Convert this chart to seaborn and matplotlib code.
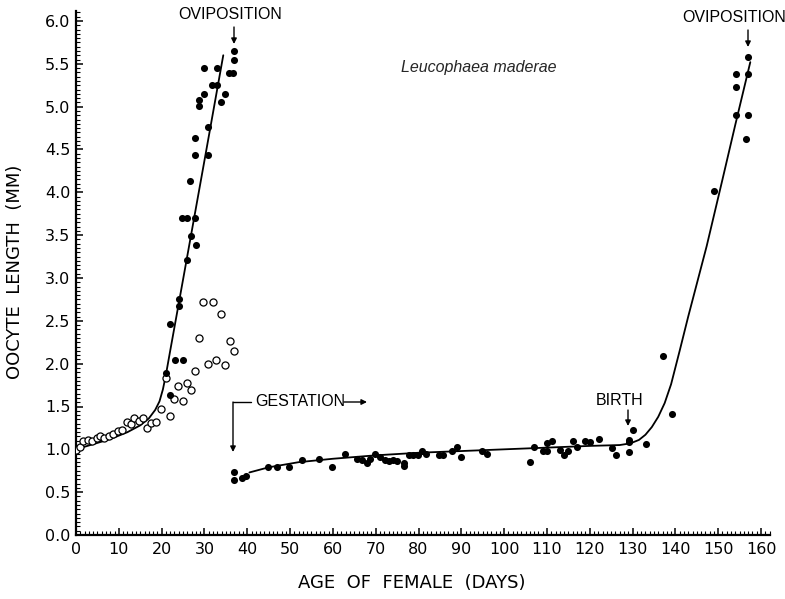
import numpy as np
import pandas as pd
import matplotlib
matplotlib.use("Agg")
import matplotlib.pyplot as plt
from matplotlib.ticker import MultipleLocator, FormatStrFormatter
import seaborn as sns

# --- first reproductive cycle: open circles (previtellogenic oocytes) ---
open_days = [0, 0.9, 1.7, 2.9, 3.8, 4.8, 5.6, 6.5, 7.6, 8.7, 9.7, 10.7, 11.8, 12.8,
             13.6, 14.7, 15.7, 16.6, 17.5, 18.6, 19.9, 21.0, 21.9, 23.0, 23.9, 24.9,
             25.9, 26.9, 27.9, 28.8, 29.7, 30.8, 31.9, 32.8, 33.9, 34.8, 36.0, 36.8]
open_len = [0.99, 1.03, 1.10, 1.11, 1.10, 1.13, 1.16, 1.13, 1.15, 1.18, 1.21, 1.23, 1.32, 1.30,
            1.37, 1.33, 1.36, 1.25, 1.31, 1.32, 1.47, 1.83, 1.39, 1.59, 1.74, 1.56,
            1.77, 1.69, 1.92, 2.30, 2.72, 2.00, 2.72, 2.04, 2.58, 1.98, 2.26, 2.15]

# --- first cycle: filled circles (growing basal oocytes) ---
c1_days = [21.0, 22.0, 21.9, 23.1, 25.0, 24.0, 24.0, 25.9, 24.8, 25.9, 27.9, 26.9, 28.0,
           26.7, 27.9, 30.9, 27.8, 30.8, 28.8, 28.8, 33.9, 29.8, 34.9, 31.8, 33.0,
           35.8, 36.6, 29.8, 32.9, 36.9, 36.9]
c1_len = [1.89, 1.64, 2.46, 2.04, 2.04, 2.75, 2.67, 3.21, 3.70, 3.70, 3.70, 3.49, 3.38,
          4.13, 4.43, 4.43, 4.64, 4.76, 5.08, 5.01, 5.06, 5.15, 5.15, 5.25, 5.25,
          5.39, 5.39, 5.45, 5.45, 5.54, 5.65]

# --- gestation and second cycle: filled circles ---
c2_days = [36.8, 36.9, 38.8, 39.7, 44.9, 46.9, 49.8, 52.8, 56.8, 59.8, 62.9, 65.7, 66.8,
           67.9, 68.7, 69.9, 71.0, 72.1, 73.1, 74.0, 74.9, 76.5, 76.6, 77.7, 78.8, 79.9,
           80.8, 81.8, 84.7, 85.8, 87.9, 89.0, 90.0, 94.9, 96.1, 106.1, 107.0, 109.0,
           110.1, 110.0, 111.1, 113.1, 114.1, 115.0, 116.2, 117.0, 119.0, 120.1, 122.2,
           125.1, 126.2, 129.2, 129.2, 129.2, 130.0, 133.1, 139.3, 137.0, 149.1, 154.2,
           154.2, 154.2, 156.9, 156.9, 156.9, 156.4]
c2_len = [0.74, 0.64, 0.66, 0.69, 0.79, 0.79, 0.79, 0.88, 0.89, 0.79, 0.95, 0.89, 0.87,
          0.84, 0.89, 0.94, 0.91, 0.88, 0.86, 0.88, 0.86, 0.84, 0.81, 0.93, 0.93, 0.93,
          0.98, 0.95, 0.93, 0.93, 0.98, 1.03, 0.91, 0.98, 0.95, 0.85, 1.03, 0.98,
          0.98, 1.07, 1.10, 0.99, 0.93, 0.98, 1.10, 1.03, 1.10, 1.08, 1.12,
          1.02, 0.93, 1.11, 1.08, 0.97, 1.23, 1.06, 1.41, 2.09, 4.01, 5.38,
          5.23, 4.90, 5.58, 5.38, 4.90, 4.62]

# --- hand-fitted growth curves ---
curve1_days = [0, 4, 8, 12, 15, 17, 18.5, 19.5, 20.3, 21.0, 22.0, 25.0, 30.0, 34.4]
curve1_len = [1.00, 1.06, 1.12, 1.20, 1.28, 1.36, 1.46, 1.56, 1.70, 1.87, 2.15, 2.98, 4.37, 5.60]

curve2_days = [40.5, 45, 52, 60, 70, 80, 90, 105, 120, 127, 129.5, 131.5, 133, 134.5,
               136, 137.5, 139, 141, 143, 147.3, 151, 154, 157.5]
curve2_len = [0.73, 0.79, 0.85, 0.89, 0.93, 0.96, 0.98, 1.01, 1.04, 1.05, 1.07, 1.11, 1.17, 1.26,
              1.38, 1.54, 1.76, 2.15, 2.55, 3.37, 4.15, 4.79, 5.52]

x_ticks = list(range(0, 161, 10))
y_ticks = [0.0, 0.5, 1.0, 1.5, 2.0, 2.5, 3.0, 3.5, 4.0, 4.5, 5.0, 5.5, 6.0]

sns.set_theme(style="ticks")
plt.rcParams["font.family"] = ["DejaVu Sans"]

fig = plt.figure(figsize=(7.85, 5.99), dpi=100)
W, H = 785, 599
x0, x1 = 76, 761          # pixel positions of day 0 and day 160
y0, y6 = 535, 21          # pixel positions of 0.0 mm and 6.0 mm
ppd = (x1 - x0) / 160.0
ppm = (y0 - y6) / 6.0
xmax, ymax = 162, 6.12
ax = fig.add_axes([x0 / W, 1 - y0 / H, xmax * ppd / W, ymax * ppm / H])

open_df = pd.DataFrame({"day": open_days, "length": open_len})
fill_df = pd.DataFrame({"day": c1_days + c2_days, "length": c1_len + c2_len})
curve1 = pd.DataFrame({"day": curve1_days, "length": curve1_len})
curve2 = pd.DataFrame({"day": curve2_days, "length": curve2_len})

sns.lineplot(data=curve1, x="day", y="length", ax=ax, color="black", lw=1.3,
             estimator=None, sort=False)
sns.lineplot(data=curve2, x="day", y="length", ax=ax, color="black", lw=1.3,
             estimator=None, sort=False)
sns.scatterplot(data=open_df, x="day", y="length", ax=ax, s=26, marker="o",
                facecolor="white", edgecolor="black", linewidth=0.9, zorder=3)
sns.scatterplot(data=fill_df, x="day", y="length", ax=ax, s=26, marker="o",
                color="black", edgecolor="black", linewidth=0, zorder=4)

ax.set_xlim(0, xmax)
ax.set_ylim(0, ymax)
ax.set_xticks(x_ticks)
ax.set_yticks(y_ticks)
ax.xaxis.set_minor_locator(MultipleLocator(1))
ax.yaxis.set_minor_locator(MultipleLocator(0.05))
ax.yaxis.set_major_formatter(FormatStrFormatter("%.1f"))
ax.set_xlabel("")
ax.set_ylabel("")
for side in ("top", "right"):
    ax.spines[side].set_visible(False)
for side in ("left", "bottom"):
    ax.spines[side].set_linewidth(1.6)
    ax.spines[side].set_color("black")
ax.tick_params(which="major", direction="in", length=5, width=1.1, colors="black",
               labelsize=11.5, pad=4)
ax.tick_params(which="minor", direction="in", length=2.6, width=0.8, colors="black")
ax.tick_params(axis="x", pad=5)

def dx(px):
    return (px - x0) / ppd

def dy(py):
    return (y0 - py) / ppm

label_font = dict(family=["Liberation Sans", "DejaVu Sans"], fontsize=11.5, color="black")
arrow = dict(arrowstyle="-|>", color="black", lw=1.0, mutation_scale=8, shrinkA=0, shrinkB=0)

# oviposition markers
ax.text(dx(230), dy(15), "OVIPOSITION", ha="center", va="center", **label_font)
ax.annotate("", xy=(dx(234), dy(44)), xytext=(dx(234), dy(27)), arrowprops=arrow)
ax.text(dx(734), dy(18), "OVIPOSITION", ha="center", va="center", **label_font)
ax.annotate("", xy=(dx(748), dy(47)), xytext=(dx(748), dy(30)), arrowprops=arrow)

# species name
ax.text(dx(479), dy(68), "Leucophaea maderae", ha="center", va="center",
        style="italic", family=["Liberation Sans", "DejaVu Sans"], fontsize=11.5)

# gestation bracket
ax.text(dx(255), dy(402), "GESTATION", ha="left", va="center", **label_font)
ax.plot([dx(251), dx(233)], [dy(402), dy(402)], color="black", lw=1.0)
ax.annotate("", xy=(dx(233), dy(452)), xytext=(dx(233), dy(402)), arrowprops=arrow)
ax.annotate("", xy=(dx(367), dy(402)), xytext=(dx(344), dy(402)), arrowprops=arrow)

# birth marker
ax.text(dx(620), dy(401), "BIRTH", ha="center", va="center", **label_font)
ax.annotate("", xy=(dx(628), dy(426)), xytext=(dx(628), dy(410)), arrowprops=arrow)

# axis titles
fig.text(15 / W, 1 - 272 / H, "OOCYTE  LENGTH  (MM)", rotation=90, ha="center",
         va="center", fontsize=13, color="black")
fig.text(412 / W, 1 - 583 / H, "AGE  OF  FEMALE  (DAYS)", ha="center", va="center",
         fontsize=13, color="black")

fig.savefig("out.png", dpi=100, facecolor="white")
